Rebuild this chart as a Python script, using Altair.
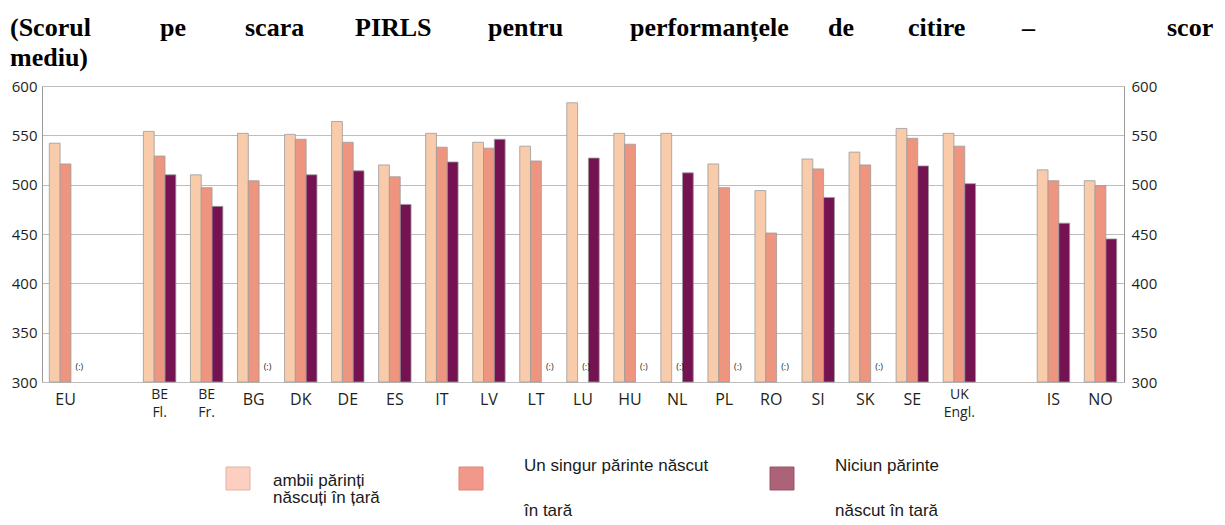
import altair as alt
import pandas as pd

# ---------------- data ----------------
countries = ["EU", "BE Fl.", "BE Fr.", "BG", "DK", "DE", "ES", "IT", "LV", "LT", "LU",
             "HU", "NL", "PL", "RO", "SI", "SK", "SE", "UK Engl.", "IS", "NO"]
country_labels = ["EU", "BE\nFl.", "BE\nFr.", "BG", "DK", "DE", "ES", "IT", "LV", "LT", "LU",
                  "HU", "NL", "PL", "RO", "SI", "SK", "SE", "UK\nEngl.", "IS", "NO"]
both_born = [542, 554, 510, 552, 551, 564, 520, 552, 543, 539, 583,
             552, 552, 521, 494, 526, 533, 557, 552, 515, 504]
one_born = [521, 529, 497, 504, 546, 543, 508, 538, 537, 524, None,
            541, None, 497, 451, 516, 520, 547, 539, 504, 499]
none_born = [None, 510, 478, None, 510, 514, 480, 523, 546, None, 527,
             None, 512, None, None, 487, None, 519, 501, 461, 445]
series_names = ["ambii", "unul", "niciunul"]
y_ticks = [300, 350, 400, 450, 500, 550, 600]

title_line1 = ["(Scorul", "pe", "scara", "PIRLS", "pentru", "performanțele", "de", "citire", "–", "scor"]
title_line2 = ["mediu)"]

# ---------------- tables ----------------
rows = []
for i, c in enumerate(countries):
    for s, vals in zip(series_names, [both_born, one_born, none_born]):
        rows.append({"country": c, "series": s, "value": vals[i]})
bars_df = pd.DataFrame(rows)
missing_df = bars_df[bars_df["value"].isna()].copy()
valid_df = bars_df[bars_df["value"].notna()].copy()

lab_df = pd.DataFrame({"country": countries, "label": country_labels})
lab_df["multi"] = lab_df["label"].str.contains("\n")
single_df = lab_df[~lab_df["multi"]]
multi_df = lab_df[lab_df["multi"]]

# x domain with the two empty gap columns
domain = [countries[0], "gap1"] + countries[1:19] + ["gap2"] + countries[19:]

W, H = 1082, 296
grid_col = "#BDBDBD"
txt_col = "#231F20"
bar_colors = ["#F8CBAA", "#EE9580", "#741252"]

xs = alt.Scale(domain=domain, paddingInner=0, paddingOuter=0)
xo = alt.Scale(domain=series_names, paddingInner=0, paddingOuter=0.675)

x_axis = alt.Axis(title=None, labels=False, ticks=False, grid=True, gridColor=grid_col,
                  gridWidth=1, bandPosition=0, domainColor="#9A9A9A", domainWidth=1)

bars = alt.Chart(valid_df).mark_bar(stroke="#9C9C9C", strokeWidth=0.8).encode(
    x=alt.X("country:N", scale=xs, axis=x_axis, sort=domain),
    xOffset=alt.XOffset("series:N", scale=xo, sort=series_names),
    y=alt.Y("value:Q", scale=alt.Scale(domain=[300, 600], zero=False, nice=False),
            axis=alt.Axis(title=None, values=y_ticks, ticks=False, grid=True, gridColor=grid_col,
                          labelFont="Open Sans", labelFontSize=15, labelColor=txt_col,
                          labelPadding=5, domainColor="#9A9A9A", orient="left")),
    y2=alt.datum(300),
    color=alt.Color("series:N", scale=alt.Scale(domain=series_names, range=bar_colors), legend=None),
)

right_axis = alt.Chart(valid_df).mark_point(opacity=0).encode(
    x=alt.X("country:N", scale=xs, axis=None, sort=domain),
    y=alt.Y("value:Q", scale=alt.Scale(domain=[300, 600], zero=False, nice=False),
            axis=alt.Axis(title=None, values=y_ticks, ticks=False, grid=False, orient="right",
                          labelFont="Open Sans", labelFontSize=15, labelColor=txt_col,
                          labelPadding=7, domainColor="#9A9A9A")),
)

missing = alt.Chart(missing_df).mark_text(text="(:)", fontSize=9, font="Open Sans",
                                           color=txt_col, dx=3).encode(
    x=alt.X("country:N", scale=xs, axis=None, sort=domain),
    xOffset=alt.XOffset("series:N", scale=xo, sort=series_names),
    y=alt.value(281),
)

single_lab = alt.Chart(single_df).mark_text(fontSize=16, font="Open Sans", color=txt_col,
                                            baseline="middle").encode(
    x=alt.X("country:N", scale=xs, axis=None, sort=domain),
    y=alt.value(314),
    text="label:N",
)
multi_lab = alt.Chart(multi_df).mark_text(fontSize=14, font="Open Sans", color=txt_col,
                                          baseline="middle", lineBreak="\n", lineHeight=18).encode(
    x=alt.X("country:N", scale=xs, axis=None, sort=domain),
    y=alt.value(309),
    text="label:N",
)

layers = [bars, right_axis, missing, single_lab, multi_lab]

# ---------------- title (justified words) ----------------
title_x1 = [-32, 118, 203, 313, 446, 588, 786, 866, 980, 1125]
for w, xv in zip(title_line1, title_x1):
    layers.append(alt.Chart(pd.DataFrame({"t": [w]})).mark_text(
        align="left", baseline="alphabetic", font="Liberation Serif", fontWeight="bold",
        fontSize=26, color="black").encode(x=alt.value(xv), y=alt.value(-50), text="t:N"))
for w in title_line2:
    layers.append(alt.Chart(pd.DataFrame({"t": [w]})).mark_text(
        align="left", baseline="alphabetic", font="Liberation Serif", fontWeight="bold",
        fontSize=26, color="black").encode(x=alt.value(-32), y=alt.value(-20), text="t:N"))

# ---------------- legend ----------------
leg_fill = ["#FCCFC0", "#F2988A", "#AC6377"]
leg_stroke = ["#E3B3A3", "#DC8677", "#9A5568"]
leg_x = [184, 417, 728]
for f, s, xv in zip(leg_fill, leg_stroke, leg_x):
    layers.append(alt.Chart(pd.DataFrame({"k": [0]})).mark_rect(fill=f, stroke=s, strokeWidth=1).encode(
        x=alt.value(xv), x2=alt.value(xv + 24), y=alt.value(381), y2=alt.value(404)))

leg_texts = [("ambii părinți", 231, 395), ("născuți în țară", 231, 412),
             ("Un singur părinte născut", 482, 380), ("în tară", 482, 425),
             ("Niciun părinte", 793, 380), ("născut în tară", 793, 425)]
for t, xv, yv in leg_texts:
    layers.append(alt.Chart(pd.DataFrame({"t": [t]})).mark_text(
        align="left", baseline="middle", font="Liberation Sans", fontSize=17,
        color="#1A1A1A").encode(x=alt.value(xv), y=alt.value(yv), text="t:N"))

chart = alt.layer(*layers).resolve_scale(y="independent").properties(
    width=W, height=H, autosize="none",
    padding={"left": 34, "top": 78, "right": 93, "bottom": 140},
).configure_view(stroke="#BDBDBD").configure(background="white")

chart.save("out.html", embed_options={"renderer": "svg", "actions": False})
